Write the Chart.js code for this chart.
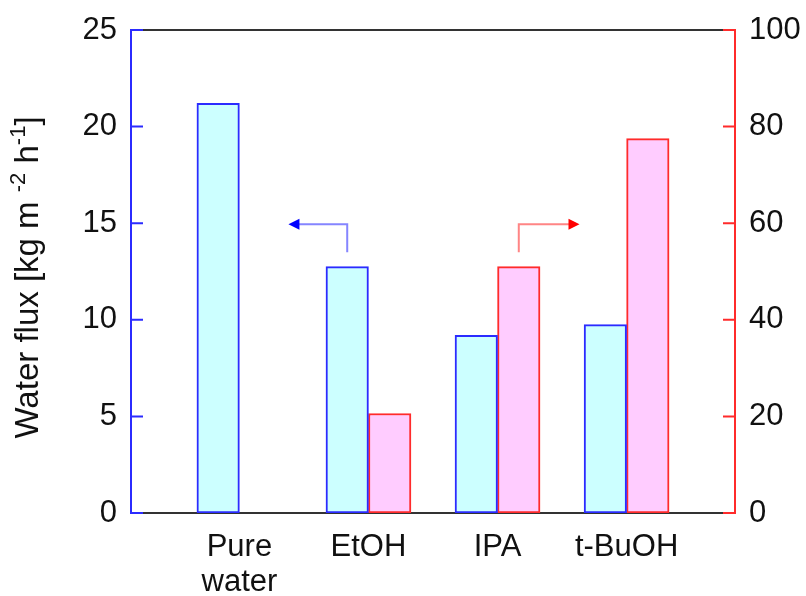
<!DOCTYPE html>
<html>
<head>
<meta charset="utf-8">
<script src="https://cdn.jsdelivr.net/npm/chart.js@4/dist/chart.umd.min.js"></script>
<style>
  html, body { margin: 0; padding: 0; background: #fff; }
  #wrap { width: 806px; height: 596px; }
</style>
</head>
<body>
<div id="wrap"><canvas id="chart" width="806" height="596"></canvas></div>
<script>
// categories and values
const categories = [['Pure', 'water'], 'EtOH', 'IPA', 't-BuOH'];
const waterFlux = [21.2, 12.75, 9.2, 9.75];        // left axis, kg m-2 h-1
const secondValue = [null, 20.6, 51.0, 77.5];       // right axis
const leftTicks = [0, 5, 10, 15, 20, 25];
const rightTicks = [0, 20, 40, 60, 80, 100];

const FONT = "'Liberation Sans', Arial, sans-serif";
const BLUE = '#2b2bff';
const RED = '#ff2b2b';

// frame, inward tick marks, y title with superscripts, and the two arrows
const framePlugin = {
  id: 'frame',
  beforeDatasetsDraw(chart) {
    const { ctx, chartArea: a, scales } = chart;
    ctx.save();
    ctx.lineWidth = 2;
    ctx.strokeStyle = '#333';
    ctx.beginPath();
    ctx.moveTo(a.left, a.top); ctx.lineTo(a.right, a.top);
    ctx.moveTo(a.left, a.bottom); ctx.lineTo(a.right, a.bottom);
    ctx.stroke();

    const tl = 12;
    ctx.strokeStyle = BLUE;
    ctx.beginPath();
    ctx.moveTo(a.left, a.top - 1); ctx.lineTo(a.left, a.bottom + 1);
    leftTicks.forEach(v => {
      const y = scales.y.getPixelForValue(v);
      ctx.moveTo(a.left, y); ctx.lineTo(a.left + tl, y);
    });
    ctx.stroke();

    ctx.strokeStyle = RED;
    ctx.beginPath();
    ctx.moveTo(a.right, a.top - 1); ctx.lineTo(a.right, a.bottom + 1);
    rightTicks.forEach(v => {
      const y = scales.y2.getPixelForValue(v);
      ctx.moveTo(a.right, y); ctx.lineTo(a.right - tl, y);
    });
    ctx.stroke();

    // y axis title, drawn by hand for the superscripts
    const parts = [
      ['Water flux [kg m ', 33, 0],
      ['-2', 22, -13],
      [' h', 33, 0],
      ['-1', 22, -13],
      [']', 33, 0]
    ];
    let total = 0;
    parts.forEach(p => { ctx.font = p[1] + 'px ' + FONT; total += ctx.measureText(p[0]).width; });
    ctx.translate(38, (a.top + a.bottom) / 2 + 6);
    ctx.rotate(-Math.PI / 2);
    ctx.fillStyle = '#111';
    ctx.textBaseline = 'alphabetic';
    ctx.textAlign = 'left';
    let cx = -total / 2;
    parts.forEach(p => {
      ctx.font = p[1] + 'px ' + FONT;
      ctx.fillText(p[0], cx, p[2]);
      cx += ctx.measureText(p[0]).width;
    });
    ctx.restore();
  },
  afterDatasetsDraw(chart) {
    const { ctx, scales } = chart;
    const x = scales.x, y = scales.y;
    const half = 21.25;
    const y0 = y.getPixelForValue(13.5);
    const y1 = y.getPixelForValue(14.95);

    function arrow(xStart, xTip, lineColor, headColor) {
      ctx.save();
      ctx.lineWidth = 2;
      ctx.strokeStyle = lineColor;
      ctx.beginPath();
      ctx.moveTo(xStart, y0);
      ctx.lineTo(xStart, y1);
      const dir = Math.sign(xTip - xStart);
      ctx.lineTo(xTip - dir * 10, y1);
      ctx.stroke();
      ctx.fillStyle = headColor;
      ctx.beginPath();
      ctx.moveTo(xTip, y1);
      ctx.lineTo(xTip - dir * 11, y1 - 5.5);
      ctx.lineTo(xTip - dir * 11, y1 + 5.5);
      ctx.closePath();
      ctx.fill();
      ctx.restore();
    }
    arrow(x.getPixelForValue(1) - half, x.getPixelForValue(1 - 0.62), '#8585ff', '#0000ff');
    arrow(x.getPixelForValue(2) + half, x.getPixelForValue(2 + 0.635), '#ff8585', '#ff0000');
  }
};

const fitY = w => s => { s.width = w; s.paddingTop = 0; s.paddingBottom = 0; };

const ctx = document.getElementById('chart').getContext('2d');
new Chart(ctx, {
  type: 'bar',
  data: {
    datasets: [{
      label: 'Water flux',
      data: waterFlux.map((v, i) => ({ x: i, y: v })),
      backgroundColor: '#ccffff',
      borderColor: BLUE,
      borderWidth: 2,
      borderSkipped: false,
      yAxisID: 'y'
    }, {
      label: 'Right axis',
      data: secondValue.map((v, i) => ({ x: i, y: v })),
      backgroundColor: '#ffccff',
      borderColor: RED,
      borderWidth: 2,
      borderSkipped: false,
      yAxisID: 'y2'
    }]
  },
  options: {
    responsive: false,
    animation: false,
    barThickness: 42.5,
    layout: { padding: { top: 30, left: 0, right: 0, bottom: 0 } },
    plugins: { legend: { display: false }, tooltip: { enabled: false } },
    scales: {
      x: {
        type: 'linear',
        offset: false,
        bounds: 'ticks',
        min: -0.84,
        max: 3.84,
        grid: { display: false, drawTicks: false },
        border: { display: false },
        afterBuildTicks: s => { s.ticks = categories.map((c, i) => ({ value: i })); },
        afterFit: s => { s.height = 83; s.paddingLeft = 0; s.paddingRight = 0; },
        ticks: {
          autoSkip: false,
          maxRotation: 0,
          padding: 17,
          color: '#111',
          font: { family: FONT, size: 31, lineHeight: 1.12 },
          callback: v => categories[v]
        }
      },
      y: {
        position: 'left',
        min: 0,
        max: 25,
        grid: { display: false, drawTicks: false },
        border: { display: false },
        afterBuildTicks: s => { s.ticks = leftTicks.map(v => ({ value: v })); },
        afterFit: fitY(131),
        ticks: { padding: 14, color: '#111', font: { family: FONT, size: 31 } }
      },
      y2: {
        position: 'right',
        min: 0,
        max: 100,
        grid: { display: false, drawTicks: false },
        border: { display: false },
        afterBuildTicks: s => { s.ticks = rightTicks.map(v => ({ value: v })); },
        afterFit: fitY(71),
        ticks: { padding: 14, color: '#111', font: { family: FONT, size: 31 } }
      }
    }
  },
  plugins: [framePlugin]
});
</script>
</body>
</html>
